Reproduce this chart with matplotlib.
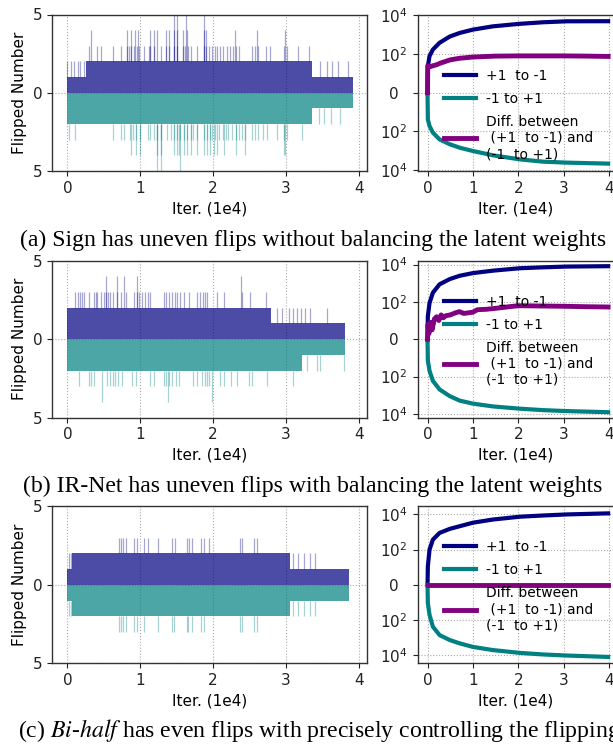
import matplotlib
matplotlib.use("Agg")
import matplotlib.pyplot as plt
from matplotlib.ticker import NullLocator

# ---- left panels: flips per iteration (x in 1e4 iters) ----
# base band (+/-1) end, dense/single spikes per level; tuples = dense clusters
A_UP_END = 3.92
A_UP_L2 = [0.0, 0.045, 0.09, 0.14, 0.18, 0.23, (0.26, 3.36), 3.47, 3.56, 3.63, 3.71, 3.85]
A_UP_L3 = [0.30, 0.41, 0.46, 0.62, 0.73, 0.82, 0.85, 0.87, 0.91, 0.95, 0.98, 1.05, 1.12, 1.14,
           1.19, 1.28, 1.35, 1.40, 1.46, 1.51, 1.58, 1.62, 1.65, 1.69, 1.78, 1.87, 1.90, 1.94,
           1.98, 2.02, 2.05, 2.10, 2.14, 2.19, 2.23, 2.27, 2.31, 2.35, 2.53, 2.57, 2.62, 2.72,
           2.78, 2.97, 3.01, 3.17, 3.32]
A_UP_L4 = [0.32, 0.82, 0.87, 0.93, 0.97, 1.13, 1.19, 1.23, 1.35, 1.40, 1.46, 1.51, 1.58, 1.64,
           1.87, 1.90, 2.30, 2.60, 2.99]
A_UP_L5 = [1.46, 1.51, 1.63, 1.87]

A_DN_END = 3.92
A_DN_L2 = [(0.0, 3.36), 3.45, 3.52, 3.61, 3.74]
A_DN_L3 = [0.02, 0.11, 0.62, 0.73, 0.78, 0.86, 0.90, 0.94, 1.0, 1.10, 1.14, 1.19, 1.23, 1.28,
           1.37, 1.42, 1.46, 1.51, 1.55, 1.60, 1.64, 1.69, 1.73, 1.78, 1.87, 1.92, 1.96, 1.99,
           2.03, 2.08, 2.13, 2.17, 2.21, 2.26, 2.31, 2.36, 2.40, 2.44, 2.53, 2.58, 2.62, 2.69,
           2.74, 2.88, 2.97, 3.01, 3.22]
A_DN_L4 = [0.87, 0.94, 1.0, 1.23, 1.28, 1.46, 1.50, 1.53, 1.60, 1.64, 1.69, 1.78, 1.87, 1.92,
           1.96, 2.01, 2.05, 2.15, 2.31, 2.44, 2.97, 2.99]
A_DN_L5 = [1.23, 1.28, 1.55]

B_UP_END = 3.81
B_UP_L2 = [(0.0, 2.79), 2.88, 2.95, 3.04, 3.10, 3.15, 3.20, 3.26, 3.33, 3.56]
B_UP_L3 = [0.11, 0.14, 0.17, 0.20, 0.23, 0.30, 0.36, 0.39, 0.41, 0.46, 0.50, 0.53, 0.56, 0.59,
           0.62, 0.68, 0.73, 0.80, 0.91, 0.95, 0.98, 1.03, 1.07, 1.11, 1.14, 1.32, 1.36, 1.40,
           1.44, 1.48, 1.51, 1.55, 1.60, 1.67, 1.78, 1.82, 1.86, 1.89, 1.92, 2.05, 2.15, 2.40,
           2.51, 2.72]
B_UP_L4 = [0.53, 0.68, 0.78, 0.95, 2.38]

B_DN_END = 3.81
B_DN_L2 = [(0.0, 3.22), 3.29, 3.42, 3.47, 3.79]
B_DN_L3 = [0.16, 0.30, 0.33, 0.36, 0.55, 0.58, 0.62, 0.66, 0.70, 0.75, 0.89, 0.94, 1.14, 1.19,
           1.32, 1.36, 1.40, 1.44, 1.49, 1.53, 1.73, 1.78, 1.85, 1.89, 1.92, 1.94, 2.10, 2.15,
           2.24, 2.33, 2.49, 2.53, 2.74, 3.10]
B_DN_L4 = [0.47, 1.38, 1.99]

C_UP_END = 3.86
C_UP_L2 = [0.02, 0.05, (0.07, 3.06), 3.10, 3.17, 3.24, 3.33, 3.40]
C_UP_L3 = [0.71, 0.74, 0.77, 0.80, 0.91, 0.96, 1.05, 1.10, 1.25, 1.44, 1.48, 1.64, 1.67, 1.71,
           1.83, 1.87, 1.94, 2.37, 2.40, 2.56, 2.60]

C_DN_END = 3.86
C_DN_L2 = [0.02, 0.05, (0.07, 3.06), 3.10, 3.17, 3.24, 3.33, 3.40]
C_DN_L3 = [0.71, 0.73, 0.77, 0.80, 0.91, 0.96, 1.05, 1.25, 1.44, 1.46, 1.64, 1.66, 1.71, 1.83,
           1.87, 2.37, 2.39, 2.56, 2.60]

# ---- right panels: cumulative flips ----
ITER = [0, 0.007, 0.044, 0.118, 0.265, 0.49, 0.71, 1.0, 1.44, 2.03, 2.55, 3.07, 3.98]
A_POS = [0, 23, 78, 170, 380, 800, 1230, 1820, 2690, 3630, 4370, 4900, 4950]
A_NEG = [0, 24, 52, 115, 257, 457, 690, 1020, 1700, 2750, 3630, 4070, 4570]
B_POS = [0, 17, 87, 309, 871, 1660, 2500, 3470, 4680, 6300, 7080, 7760, 8130]
B_NEG = [0, 14, 49, 170, 490, 1120, 1950, 2820, 3980, 5250, 6300, 7080, 8130]
C_POS = [0, 11, 100, 370, 890, 1510, 2140, 3390, 5130, 7410, 8710, 10000, 11500]
C_NEG = [0, 11, 51, 240, 720, 1380, 2140, 3390, 5130, 7410, 9120, 10500, 12600]

A_DIFF_X = [0, 0.005, 0.05, 0.1, 0.2, 0.3, 0.5, 0.7, 1.0, 1.5, 2.0, 2.5, 3.0, 3.5, 3.98]
A_DIFF = [0, 25, 22, 24, 28, 35, 50, 60, 70, 78, 80, 80, 80, 78, 75]
B_DIFF_X = [0, 0.01, 0.03, 0.06, 0.1, 0.15, 0.2, 0.25, 0.3, 0.35, 0.4, 0.5, 0.6, 0.7, 0.8,
            1.0, 1.1, 1.3, 1.5, 1.8, 2.0, 2.5, 3.0, 3.5, 3.98]
B_DIFF = [0, 8, 3, 9, 5, 12, 16, 10, 20, 14, 18, 20, 25, 30, 24, 28, 38, 40, 45, 55, 62, 60,
          58, 55, 53]
C_DIFF_X = [0, 3.98]
C_DIFF = [0, 0]

CAPTIONS = ["(a) Sign has uneven flips without balancing the latent weights",
            "(b) IR-Net has uneven flips with balancing the latent weights",
            r"(c) $\mathit{Bi}$-$\mathit{half}$ has even flips with precisely controlling the flipping"]

UP_C = 'navy'
DN_C = 'teal'
DIFF_C = 'purple'
FS = 11

W, H = 613, 744
fig = plt.figure(figsize=(W / 100, H / 100), dpi=100)


def px_axes(x0, x1, top, bottom):
    return fig.add_axes([x0 / W, 1 - bottom / H, (x1 - x0) / W, (bottom - top) / H])


def draw_level(ax, items, lo, hi, color):
    for it in items:
        if isinstance(it, tuple):
            ax.bar(it[0], hi - lo, width=it[1] - it[0], bottom=lo, align='edge',
                   color=color, alpha=0.7, lw=0)
        else:
            ax.vlines(it, lo, hi, color=color, alpha=0.35, lw=0.9)


def style(ax):
    ax.grid(True, ls=':', color='#aaaaaa', lw=0.8)
    ax.set_axisbelow(True)
    for s in ax.spines.values():
        s.set_color('#333333')
        s.set_linewidth(1.0)
    ax.tick_params(labelsize=FS, colors='#222222')
    ax.set_xlim(-0.21, 4.11)
    ax.set_xticks([0, 1, 2, 3, 4])
    ax.set_xlabel('Iter. (1e4)', fontsize=FS)


def flips_panel(ax, up_end, dn_end, up_levels, dn_levels):
    ax.bar(0, 1, width=up_end, align='edge', color=UP_C, alpha=0.7, lw=0)
    ax.bar(0, -1, width=dn_end, align='edge', color=DN_C, alpha=0.7, lw=0)
    for k, items in enumerate(up_levels, start=2):
        draw_level(ax, items, 1 if k == 2 else 2, k, UP_C)
    for k, items in enumerate(dn_levels, start=2):
        draw_level(ax, items, -1 if k == 2 else -2, -k, DN_C)
    ax.set_ylim(-5, 5)
    ax.set_yticks([5, 0, -5])
    ax.set_yticklabels(['5', '0', '5'])
    ax.set_ylabel('Flipped Number', fontsize=FS)
    style(ax)


def cum_panel(ax, pos, neg, dx, diff, ylim, leg_y):
    ax.plot(ITER, pos, color=UP_C, lw=3, label='+1  to -1')
    ax.plot(ITER, [-v for v in neg], color=DN_C, lw=3, label='-1 to +1')
    ax.plot(dx, diff, color=DIFF_C, lw=3.5,
            label='Diff. between\n (+1  to -1) and\n(-1  to +1)')
    ax.set_yscale('symlog', linthresh=10, linscale=0.9)
    ax.set_ylim(-ylim, ylim)
    ax.set_yticks([1e4, 1e2, 0, -1e2, -1e4])
    ax.set_yticklabels(['$10^4$', '$10^2$', '0', '$10^2$', '$10^4$'])
    ax.yaxis.set_minor_locator(NullLocator())
    style(ax)
    ax.tick_params(axis='y', pad=14)
    for lbl in ax.get_yticklabels():
        lbl.set_horizontalalignment('center')
    ax.legend(loc='upper left', bbox_to_anchor=(0.105, leg_y), borderaxespad=0,
              frameon=False, fontsize=10, handlelength=2.3, handletextpad=0.7,
              labelspacing=0.65)


rows = [(14.5, 171.0), (260.7, 417.7), (506.3, 663.3)]
left_data = [
    (A_UP_END, A_DN_END, [A_UP_L2, A_UP_L3, A_UP_L4, A_UP_L5], [A_DN_L2, A_DN_L3, A_DN_L4, A_DN_L5]),
    (B_UP_END, B_DN_END, [B_UP_L2, B_UP_L3, B_UP_L4], [B_DN_L2, B_DN_L3, B_DN_L4]),
    (C_UP_END, C_DN_END, [C_UP_L2, C_UP_L3], [C_DN_L2, C_DN_L3]),
]
right_data = [
    (A_POS, A_NEG, A_DIFF_X, A_DIFF, 1.1e4, 0.69),
    (B_POS, B_NEG, B_DIFF_X, B_DIFF, 1.6e4, 0.82),
    (C_POS, C_NEG, C_DIFF_X, C_DIFF, 2.9e4, 0.82),
]
cap_y = [240, 486, 731]

for i, (top, bottom) in enumerate(rows):
    axl = px_axes(52, 367, top, bottom)
    flips_panel(axl, *left_data[i])
    axr = px_axes(418, 614, top, bottom)
    cum_panel(axr, *right_data[i])
    if i < 2:
        fig.text(313 / W, 1 - cap_y[i] / H, CAPTIONS[i], ha='center', va='center',
                 family='Liberation Serif', fontsize=17.1)
    else:
        fig.text(18 / W, 1 - cap_y[i] / H, CAPTIONS[i], ha='left', va='center',
                 family='Liberation Serif', fontsize=17.1, math_fontfamily='stix')

fig.savefig('out.png', dpi=100)
